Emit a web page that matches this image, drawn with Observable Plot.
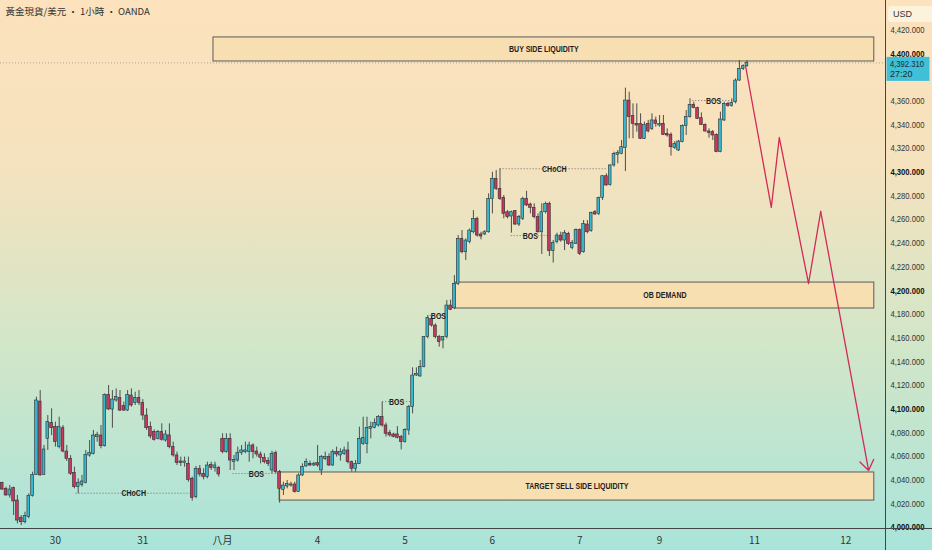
<!DOCTYPE html>
<html><head><meta charset="utf-8">
<script src="https://cdn.jsdelivr.net/npm/d3@7"></script>
<script src="https://cdn.jsdelivr.net/npm/@observablehq/plot@0.6"></script>
<style>
html,body{margin:0;padding:0;}
#wrap{position:relative;width:932px;height:550px;overflow:hidden;
 background:linear-gradient(180deg,#fce2bd 0%,#f5e2be 30%,#d3e6c8 62%,#a9e4da 100%);}
#wrap svg{display:block;background:transparent;}
</style></head><body><div id="wrap"></div>
<script>
// ---- hourly candles (bar index 0..196) ----
const opens  = [4037.7,4032.6,4027.0,4033.2,4022.7,4007.8,4004.4,4008.7,4026.4,4044.4,4106.3,4044.4,4074.8,4088.3,4084.7,4067.8,4083.8,4064.1,4057.9,4046.1,4034.0,4036.0,4037.7,4060.7,4062.1,4076.2,4077.6,4068.6,4112.0,4099.6,4107.2,4109.2,4102.4,4098.7,4111.4,4105.2,4109.2,4105.2,4094.5,4084.7,4080.5,4074.8,4080.5,4073.4,4077.7,4067.8,4060.8,4055.7,4054.3,4053.7,4041.1,4025.6,4049.5,4045.3,4042.5,4052.9,4050.3,4050.3,4074.8,4063.6,4074.8,4055.1,4056.5,4062.7,4063.6,4063.6,4069.2,4064.1,4061.6,4058.8,4056.0,4048.1,4062.7,4046.7,4031.8,4034.6,4035.4,4036.3,4029.8,4043.9,4051.5,4053.7,4052.3,4054.3,4048.1,4057.9,4059.4,4052.3,4063.6,4060.8,4062.2,4065.0,4055.1,4049.5,4053.7,4070.6,4070.6,4083.3,4084.1,4086.1,4093.1,4086.1,4079.6,4078.5,4078.5,4076.3,4072.0,4081.9,4101.6,4128.3,4127.5,4135.4,4160.7,4176.2,4170.5,4160.7,4157.9,4160.7,4187.4,4185.0,4205.7,4243.7,4232.4,4240.9,4249.3,4260.6,4247.4,4247.4,4249.3,4277.5,4294.4,4285.9,4278.3,4266.2,4262.6,4267.1,4255.8,4260.6,4277.5,4272.7,4269.9,4262.0,4249.3,4266.2,4273.3,4233.3,4240.9,4246.5,4242.3,4247.9,4236.1,4239.5,4251.3,4232.4,4255.8,4250.2,4266.2,4264.8,4278.1,4296.6,4289.3,4305.7,4314.7,4315.5,4320.3,4360.5,4347.3,4340.8,4340.8,4328.2,4340.8,4336.6,4343.7,4339.4,4340.8,4332.4,4331.6,4320.3,4318.3,4325.4,4338.9,4346.5,4356.9,4354.1,4345.6,4340.0,4334.4,4333.8,4331.6,4316.9,4343.7,4357.7,4355.8,4359.1,4377.4,4387.3,4389.5];
const highs  = [4038.2,4034.0,4035.4,4034.0,4027.0,4010.1,4012.9,4028.4,4046.7,4110.0,4115.6,4069.2,4094.5,4100.2,4088.9,4093.1,4086.1,4069.2,4060.7,4050.9,4041.0,4043.9,4065.0,4073.4,4081.9,4080.4,4086.1,4112.8,4119.9,4115.6,4117.0,4115.6,4105.8,4115.6,4117.0,4114.2,4115.6,4108.0,4100.2,4088.9,4082.4,4081.9,4087.5,4081.9,4087.5,4072.0,4063.6,4059.4,4059.4,4059.4,4042.5,4051.5,4052.3,4049.5,4055.1,4055.1,4055.1,4051.5,4079.1,4079.1,4079.1,4060.8,4067.8,4069.2,4072.0,4072.0,4070.6,4067.8,4063.6,4062.2,4058.8,4064.4,4064.4,4048.1,4038.2,4039.6,4038.2,4038.2,4045.3,4053.7,4057.9,4056.0,4055.1,4069.2,4060.8,4063.6,4062.2,4065.5,4067.8,4066.4,4067.8,4072.0,4056.0,4056.5,4084.7,4093.1,4093.1,4088.9,4091.7,4094.5,4105.8,4088.1,4081.9,4079.6,4085.2,4077.7,4083.3,4103.0,4134.8,4134.8,4141.0,4161.3,4179.0,4178.1,4171.9,4162.1,4161.3,4191.7,4192.0,4212.7,4246.5,4250.7,4243.7,4252.1,4267.6,4262.0,4249.3,4250.7,4281.7,4300.0,4301.4,4302.8,4280.3,4267.6,4267.1,4267.6,4263.4,4278.9,4283.9,4273.8,4273.3,4264.8,4273.3,4274.7,4274.7,4242.3,4248.5,4249.3,4250.7,4249.3,4242.3,4252.1,4252.1,4259.2,4259.2,4266.2,4267.6,4279.0,4297.2,4298.6,4306.2,4316.9,4318.3,4326.8,4371.0,4367.6,4357.7,4357.7,4349.3,4342.3,4343.7,4349.3,4346.5,4347.9,4347.9,4336.6,4333.2,4325.9,4326.8,4340.0,4352.1,4362.0,4359.1,4354.9,4350.1,4340.8,4336.6,4335.2,4332.4,4350.7,4359.1,4359.1,4362.0,4378.8,4394.3,4390.7,4394.3];
const lows   = [4031.2,4026.4,4024.7,4010.1,4003.0,4001.6,4003.0,4007.3,4025.6,4043.9,4043.3,4043.9,4065.0,4077.6,4067.8,4066.4,4063.0,4055.7,4043.9,4032.6,4028.4,4034.0,4036.8,4059.3,4061.3,4072.0,4066.4,4067.8,4098.7,4083.8,4105.8,4097.9,4097.9,4097.9,4101.6,4103.0,4103.0,4090.3,4081.9,4074.8,4072.9,4074.0,4072.9,4072.0,4066.4,4059.4,4052.3,4051.5,4050.9,4038.2,4022.2,4024.2,4042.5,4040.2,4041.1,4048.1,4046.7,4042.5,4062.2,4062.7,4048.1,4048.1,4055.1,4060.8,4062.2,4055.1,4058.0,4059.4,4053.7,4053.7,4051.5,4045.3,4045.3,4020.5,4027.0,4032.6,4034.0,4029.0,4029.8,4043.0,4050.9,4051.5,4051.5,4050.9,4043.9,4056.5,4051.5,4051.5,4059.4,4056.0,4060.8,4053.7,4046.7,4046.7,4053.1,4069.2,4062.2,4074.8,4083.3,4084.7,4084.7,4076.3,4076.3,4075.7,4074.8,4065.5,4071.2,4077.7,4095.9,4127.5,4126.9,4134.8,4159.3,4169.1,4159.3,4152.2,4150.8,4159.3,4183.2,4184.0,4204.3,4231.0,4225.4,4239.5,4247.9,4245.1,4242.9,4246.5,4248.5,4264.8,4284.5,4276.1,4260.6,4260.6,4248.5,4255.0,4254.1,4259.2,4271.0,4264.8,4260.6,4248.5,4230.5,4264.8,4228.8,4223.2,4239.5,4240.9,4233.8,4238.1,4234.4,4238.9,4229.6,4231.6,4247.9,4249.3,4263.4,4263.4,4276.1,4288.2,4288.2,4304.3,4307.1,4314.7,4300.6,4328.2,4328.2,4333.8,4327.6,4327.6,4333.2,4335.2,4338.0,4338.0,4331.0,4329.6,4313.6,4319.2,4317.5,4324.8,4331.0,4345.6,4353.5,4344.5,4339.4,4333.8,4328.7,4326.8,4316.4,4316.4,4342.8,4354.9,4354.9,4357.7,4376.6,4385.9,4388.7];
const closes = [4032.0,4027.0,4032.0,4021.9,4005.8,4004.4,4009.5,4026.4,4044.4,4107.2,4043.9,4065.8,4088.9,4083.8,4072.0,4084.7,4064.1,4057.9,4045.3,4034.0,4037.7,4038.8,4061.3,4063.0,4077.6,4078.2,4068.6,4112.0,4099.6,4108.0,4110.0,4098.7,4098.7,4112.0,4103.0,4109.2,4105.2,4094.5,4083.8,4076.8,4074.0,4080.5,4074.0,4078.5,4067.8,4060.8,4054.3,4054.3,4055.7,4040.2,4025.0,4049.5,4044.7,4042.5,4052.3,4050.3,4052.3,4044.7,4063.6,4074.8,4056.5,4057.1,4062.7,4065.0,4065.0,4069.2,4063.6,4061.6,4058.8,4055.1,4053.7,4062.2,4046.7,4032.6,4035.4,4036.8,4036.3,4029.8,4043.9,4050.9,4055.1,4052.3,4053.7,4052.3,4059.4,4059.4,4052.3,4063.6,4061.6,4063.6,4065.0,4055.1,4049.5,4053.7,4074.8,4075.7,4084.1,4084.7,4088.1,4093.1,4086.1,4079.1,4077.7,4076.3,4075.7,4072.0,4082.4,4101.6,4128.3,4129.7,4135.4,4160.7,4177.0,4170.5,4160.7,4156.5,4160.7,4187.4,4183.8,4205.7,4243.7,4232.4,4242.3,4250.7,4260.6,4246.5,4245.7,4249.3,4277.5,4294.4,4285.9,4277.5,4264.8,4262.0,4266.2,4255.8,4262.0,4277.5,4271.9,4269.9,4262.0,4249.3,4266.2,4273.3,4233.3,4240.1,4246.5,4242.3,4248.5,4239.5,4240.1,4251.3,4231.0,4256.4,4249.3,4265.4,4264.3,4278.3,4296.6,4288.8,4305.7,4315.5,4316.4,4321.1,4360.5,4346.5,4340.8,4339.4,4328.2,4340.0,4334.4,4343.7,4340.8,4340.8,4331.6,4331.0,4321.1,4324.0,4325.9,4338.9,4346.5,4356.9,4354.1,4345.1,4340.0,4334.4,4333.2,4331.0,4316.9,4344.5,4357.7,4355.8,4358.6,4377.4,4387.3,4389.5,4392.31];

// ---- time axis (bar index of first bar of each labelled day) ----
const dayIdx    = [14, 37, 58, 83, 106, 129, 152, 173, 198, 222];
const dayLabels = ["30", "31", "八月", "4", "5", "6", "7", "9", "11", "12"];

// ---- price axis ----
const tickNormal = [4020,4040,4060,4080,4120,4140,4160,4180,4220,4240,4260,4280,4320,4340,4360,4420];
const tickBold   = [4000,4100,4200,4300,4400];
const lastPrice  = 4392.31;
const countdown  = "27:20";

// ---- zones ----
const zoneNames = ["BUY SIDE LIQUIDITY", "OB DEMAND", "TARGET SELL SIDE LIQUIDITY"];
const zoneStart = [55.6, 119.3, 73.0];
const zoneEnd   = [229.5, 229.5, 229.5];
const zoneLow   = [4393.5, 4184.9, 4022.7];
const zoneHigh  = [4413.8, 4206.8, 4046.4];

// ---- structure marks ----
const structNames = ["CHoCH", "BOS", "BOS", "BOS", "BOS", "CHoCH", "BOS"];
const structLevel = [4028.9, 4045.5, 4106.3, 4179.0, 4246.5, 4302.9, 4360.5];
const structFrom  = [19.3, 60.6, 100.0, 112.5, 133.8, 130.9, 181.6];
const structTo    = [49.6, 72.7, 107.4, 116.5, 144.3, 159.2, 192.5];
const structLabelAt = [34.6, 66.9, 103.8, 114.8, 139.0, 145.3, 187.2];

// ---- projected path ----
const projIdx   = [195.6, 202.4, 204.5, 212.2, 215.4, 228.0];
const projPrice = [4390.1, 4270.2, 4329.3, 4206.0, 4266.8, 4048.1];

const title = "黃金現貨/美元 • 1小時 • OANDA";

// ---- build tables ----
const candles = opens.map((o, i) => ({i, o, h: highs[i], l: lows[i], c: closes[i]}));
const bodies = candles.map(d => {
  let lo = Math.min(d.o, d.c), hi = Math.max(d.o, d.c);
  if (hi - lo < 0.9) { const m = (hi + lo) / 2; lo = m - 0.45; hi = m + 0.45; }
  return {...d, lo, hi, up: d.c >= d.o};
});
const zones = zoneNames.map((name, k) => ({name, x1: zoneStart[k], x2: zoneEnd[k], y1: zoneLow[k], y2: zoneHigh[k]}));
const structs = structNames.map((name, k) => ({name, y: structLevel[k], x1: structFrom[k], x2: structTo[k], xl: structLabelAt[k]}));
const proj = projIdx.map((x, k) => ({x, y: projPrice[k]}));
const projHead = [{x1: projIdx[4], y1: projPrice[4], x2: projIdx[5], y2: projPrice[5]}];

const UP = "#38b7d0", DOWN = "#c8375f", RED = "#d22a58";
const sans = "'Liberation Sans','DejaVu Sans',sans-serif";
const fmt = d3.format(",.3f");

const chart = Plot.plot({
  width: 932, height: 550,
  marginLeft: 0, marginRight: 47, marginTop: 0, marginBottom: 22,
  style: {background: "transparent", fontFamily: sans, overflow: "visible"},
  x: {domain: [-0.447, 232.45], axis: null},
  y: {domain: [3999.1, 4445], axis: null},
  marks: [
    Plot.ruleY([lastPrice], {stroke: "#8c8c8c", strokeOpacity: 0.7, strokeDasharray: "1,2"}),
    Plot.rect(zones, {x1: "x1", x2: "x2", y1: "y1", y2: "y2", fill: "#f7dfb2", stroke: "#5b5b5b", strokeWidth: 1}),
    Plot.text(zones, {x: d => (d.x1 + d.x2) / 2, y: d => (d.y1 + d.y2) / 2, text: "name",
      fontSize: 9, fontWeight: "bold", fill: "#222"}),
    Plot.link(structs, {x1: "x1", x2: "x2", y1: "y", y2: "y", stroke: "#6f6f6f", strokeDasharray: "1,2", strokeWidth: 1}),
    Plot.ruleX(candles, {x: "i", y1: "l", y2: "h", stroke: "#4d4d4d", strokeWidth: 1}),
    Plot.rect(bodies, {x1: d => d.i - 0.36, x2: d => d.i + 0.36, y1: "lo", y2: "hi",
      fill: d => d.up ? UP : DOWN, stroke: "#2e2e2e", strokeWidth: 0.6}),
    Plot.text(structs, {x: "xl", y: "y", text: "name", fontSize: 9.5, fontWeight: "bold", fill: "#222"}),
    Plot.line(proj.slice(0, 5), {x: "x", y: "y", stroke: RED, strokeWidth: 1.3}),
    Plot.arrow(projHead, {x1: "x1", y1: "y1", x2: "x2", y2: "y2", stroke: RED, strokeWidth: 1.3, headLength: 14, headAngle: 70}),
    Plot.axisY(tickNormal, {anchor: "right", tickSize: 0, tickPadding: 5, tickFormat: fmt,
      fontSize: 9, fill: "#333", textAnchor: "start"}),
    Plot.axisY(tickBold, {anchor: "right", tickSize: 0, tickPadding: 5, tickFormat: fmt,
      fontSize: 9, fontWeight: "bold", fill: "#111", textAnchor: "start"}),
    Plot.axisX(dayIdx, {anchor: "bottom", tickSize: 0, tickPadding: 8,
      tickFormat: d => dayLabels[dayIdx.indexOf(d)], fontSize: 10, fill: "#333",
      fontFamily: "'Noto Sans CJK TC','Liberation Sans',sans-serif"}),
    Plot.text([title], {frameAnchor: "top-left", dx: 5, dy: 8, fontSize: 9.5, fill: "#333",
      fontFamily: "'Noto Sans CJK TC',sans-serif", textAnchor: "start"})
  ]
});

document.getElementById("wrap").appendChild(chart);
const svg = d3.select(chart);

// condense label glyphs to the narrow look of the reference
function squeezeNode(node, width) {
  node.setAttribute("textLength", width.toFixed(1));
  node.setAttribute("lengthAdjust", "spacingAndGlyphs");
}
const zoneSet = new Set(zoneNames), structSet = new Set(structNames);
svg.selectAll("text").each(function() {
  const s = this.textContent;
  if (/^4,\d{3}\.\d{3}$/.test(s)) squeezeNode(this, 34);
  else if (zoneSet.has(s)) squeezeNode(this, this.getComputedTextLength() * 0.78);
  else if (structSet.has(s)) squeezeNode(this, this.getComputedTextLength() * 0.74);
});

// frame lines, USD box and last-price tag placed with the chart's scales
const xr = chart.scale("x").range, yr = chart.scale("y").range;
const xe = Math.max(...xr), ye = Math.max(...yr);
svg.append("line").attr("x1", xe + 0.5).attr("x2", xe + 0.5).attr("y1", 0).attr("y2", 550)
  .attr("stroke", "#444").attr("stroke-width", 1);
svg.append("line").attr("x1", 0).attr("x2", 932).attr("y1", ye + 0.5).attr("y2", ye + 0.5)
  .attr("stroke", "#444").attr("stroke-width", 1);
svg.append("rect").attr("x", xe + 3).attr("y", 6).attr("width", 45).attr("height", 16).attr("rx", 3)
  .attr("fill", "#fdf3dc");
svg.append("text").attr("x", xe + 8).attr("y", 17).attr("font-size", 9).attr("fill", "#333")
  .attr("text-anchor", "start").attr("font-family", sans).text("USD");
const py = chart.scale("y").apply(lastPrice);
svg.append("rect").attr("x", xe + 1.5).attr("y", py - 5.5).attr("width", 43).attr("height", 24)
  .attr("fill", "#3fc0d8");
const t1 = svg.append("text").attr("x", xe + 5).attr("y", py + 5).attr("font-size", 9).attr("fill", "#1e2a30")
  .attr("text-anchor", "start").attr("font-family", sans).text(fmt(lastPrice));
svg.append("text").attr("x", xe + 5).attr("y", py + 15).attr("font-size", 9).attr("fill", "#1e2a30")
  .attr("text-anchor", "start").attr("font-family", sans).text(countdown);
squeezeNode(t1.node(), 34);
</script>
</body></html>
